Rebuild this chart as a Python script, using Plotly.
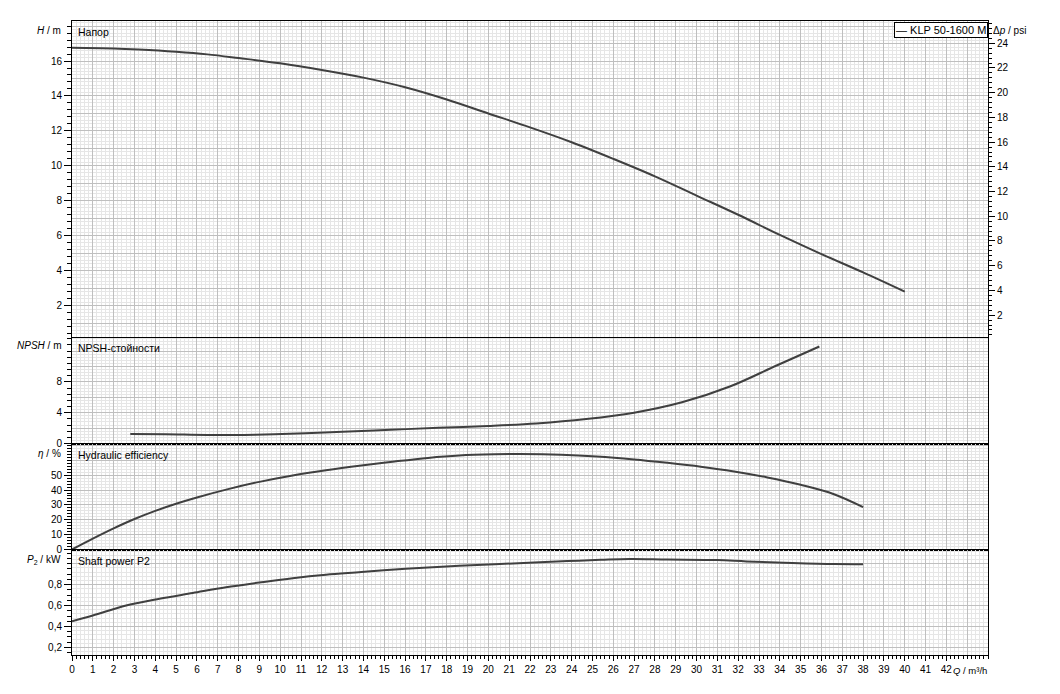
import plotly.graph_objects as go

# pump curve data (Q in m3/h)
q_head = [0, 2, 3.2, 5, 6.5, 8, 10, 12, 14, 16, 18, 20, 22, 24, 26, 28, 30, 32, 34, 36, 38, 40]
head_m = [16.76, 16.72, 16.66, 16.53, 16.38, 16.17, 15.87, 15.49, 15.05, 14.5, 13.8, 13.0,
          12.2, 11.35, 10.4, 9.4, 8.3, 7.2, 6.05, 4.95, 3.9, 2.8]

q_npsh = [2.8, 4.5, 6.5, 8.8, 11.2, 13.0, 15.3, 17.6, 20.0, 22.3, 24.7, 27.0, 29.3, 31.6, 33.9, 35.9]
npsh_m = [1.22, 1.2, 1.1, 1.15, 1.32, 1.52, 1.78, 2.04, 2.28, 2.6, 3.17, 4.0, 5.35, 7.4, 10.2, 12.6]

q_eff = [0, 1, 2, 3, 4, 5, 6, 7.5, 9, 10.6, 12.2, 13.9, 15.5, 17.1, 18.6, 20.3, 21.5,
         23.5, 25.2, 27.0, 28.6, 30.2, 31.8, 33.4, 35.0, 36.6, 38.0]
eff_pct = [0, 7.3, 14.2, 20.5, 26, 30.8, 35, 40.6, 45.5, 49.8, 53.3, 56.5, 59.2, 61.6, 63.2, 64.0,
           64.2, 63.8, 62.6, 60.6, 58.3, 55.7, 52.5, 48.5, 43.5, 37.2, 28.5]

q_power = [0, 1, 2.6, 4.2, 5.8, 7.4, 9.0, 10.6, 12.2, 13.9, 15.5, 17.1, 18.6, 20.3, 22.2,
           23.8, 25.4, 26.8, 28.6, 31.0, 32.4, 34.2, 36.6, 38.0]
power_kw = [0.45, 0.505, 0.6, 0.665, 0.72, 0.775, 0.82, 0.862, 0.895, 0.92, 0.945, 0.965, 0.98,
            0.995, 1.012, 1.025, 1.037, 1.045, 1.04, 1.035, 1.022, 1.01, 0.997, 0.996]

pump_name = "KLP 50-1600 M"

q_ticks = list(range(0, 43))
q_labels = [str(v) for v in q_ticks]
head_ticks = [2, 4, 6, 8, 10, 12, 14, 16]
head_labels = [str(v) for v in head_ticks]
psi_ticks = [2, 4, 6, 8, 10, 12, 14, 16, 18, 20, 22, 24]
psi_labels = [str(v) for v in psi_ticks]
npsh_ticks = [0, 4, 8]
npsh_labels = ["0", "4", "8"]
eff_ticks = [0, 10, 20, 30, 40, 50]
eff_labels = [str(v) for v in eff_ticks]
power_ticks = [0.2, 0.4, 0.6, 0.8]
power_labels = ["0,2", "0,4", "0,6", "0,8"]

# page geometry in pixels (the page body adds an 8 px offset)
OFF = 8
W, H = 1060 - OFF, 694 - OFF
L, R, T, B = 72, 988, 21, 655
edges = [21, 337.5, 443.5, 549.5, 655]

MAJOR = "#bfbfbf"
MINOR = "#e6e6e6"
FAMILY = "Liberation Sans, Arial, sans-serif"
FONT = dict(family=FAMILY, size=10, color="black")
TFONT = dict(family=FAMILY, size=10.5, color="black")


def dom(top, bottom):
    return [(B - bottom) / (B - T), (B - top) / (B - T)]


def px(x, y):
    return (x - L) / (R - L), (B - y) / (B - T)


def grid_axis(**kw):
    ax = dict(showgrid=True, gridcolor=MAJOR, gridwidth=1, zeroline=False, showline=True,
              mirror=True, linecolor="black", linewidth=1, ticks="", showticklabels=False,
              tick0=0, fixedrange=True)
    ax.update(kw)
    return ax


def tick_axis(over, anchor, rng, vals, text, minor_dtick, side="left", tlen=7, mlen=4):
    return dict(overlaying=over, anchor=anchor, side=side, range=rng, tickmode="array",
                tickvals=vals, ticktext=text, ticks="outside", ticklen=tlen, tickwidth=1,
                tickcolor="black", showgrid=False, zeroline=False, showline=False,
                tickfont=FONT, fixedrange=True,
                minor=dict(dtick=minor_dtick, tick0=0, ticks="outside", ticklen=mlen,
                           tickcolor="black", showgrid=False))


q_rng = [0, 44]
head_rng = [0.175, 18.29]
npsh_rng = [0, 13.77]
eff_rng = [0, 71.3]
power_rng = [0.127, 1.136]
psi_rng = [0.19, 25.8]

fig = go.Figure()
curve = dict(color="#404040", width=2)
series = [(q_head, head_m), (q_npsh, npsh_m), (q_eff, eff_pct), (q_power, power_kw)]
for i, (q, v) in enumerate(series, 1):
    sfx = "" if i == 1 else str(i)
    fig.add_trace(go.Scatter(x=q, y=v, mode="lines", line=curve, line_shape="spline",
                             xaxis="x" + sfx, yaxis="y" + sfx, showlegend=False,
                             hoverinfo="x+y"))

# empty traces so the overlay tick axes get drawn
for xa, ya in [("x", "y5"), ("x2", "y6"), ("x3", "y7"), ("x4", "y8"), ("x", "y9"), ("x5", "y4")]:
    fig.add_trace(go.Scatter(x=[], y=[], xaxis=xa, yaxis=ya, showlegend=False, hoverinfo="skip"))

xminor = dict(dtick=0.2, tick0=0, showgrid=True, gridcolor=MINOR)
layout = dict(
    width=W, height=H, autosize=False,
    margin=dict(l=L - OFF, r=W - (R - OFF), t=T - OFF, b=H - (B - OFF)),
    paper_bgcolor="white", plot_bgcolor="white",
    font=FONT, showlegend=False,
    xaxis=grid_axis(range=q_rng, dtick=1, anchor="y", minor=xminor),
    xaxis2=grid_axis(range=q_rng, dtick=1, anchor="y2", minor=xminor, matches="x"),
    xaxis3=grid_axis(range=q_rng, dtick=1, anchor="y3", minor=xminor, matches="x"),
    xaxis4=grid_axis(range=q_rng, dtick=1, anchor="y4", minor=xminor, matches="x"),
    xaxis5=dict(overlaying="x4", anchor="y4", side="bottom", range=q_rng, tickmode="array",
                tickvals=q_ticks, ticktext=q_labels, ticks="outside", ticklen=5, tickwidth=1,
                tickcolor="black", showgrid=False, zeroline=False, showline=False,
                tickfont=FONT, fixedrange=True,
                minor=dict(dtick=0.2, tick0=0, ticks="outside", ticklen=3,
                           tickcolor="black", showgrid=False)),
    yaxis=grid_axis(domain=dom(edges[0], edges[1]), range=head_rng, dtick=1, anchor="x",
                    minor=dict(dtick=0.2, tick0=0, showgrid=True, gridcolor=MINOR)),
    yaxis2=grid_axis(domain=dom(edges[1], edges[2]), range=npsh_rng, dtick=2, anchor="x2",
                     minor=dict(dtick=0.4, tick0=0, showgrid=True, gridcolor=MINOR)),
    yaxis3=grid_axis(domain=dom(edges[2], edges[3]), range=eff_rng, dtick=10, anchor="x3",
                     minor=dict(dtick=2, tick0=0, showgrid=True, gridcolor=MINOR)),
    yaxis4=grid_axis(domain=dom(edges[3], edges[4]), range=power_rng, dtick=0.2, anchor="x4",
                     minor=dict(dtick=0.04, tick0=0, showgrid=True, gridcolor=MINOR)),
    yaxis5=tick_axis("y", "x", head_rng, head_ticks, head_labels, 0.4),
    yaxis6=tick_axis("y2", "x2", npsh_rng, npsh_ticks, npsh_labels, 0.8),
    yaxis7=tick_axis("y3", "x3", eff_rng, eff_ticks, eff_labels, 2),
    yaxis8=tick_axis("y4", "x4", power_rng, power_ticks, power_labels, 0.05),
    yaxis9=tick_axis("y", "x", psi_rng, psi_ticks, psi_labels, 0.4, side="right", tlen=6, mlen=3),
)
fig.update_layout(**layout)

# crisp black borders between the panels, drawn above the grids
for e in edges[1:-1]:
    _, ey = px(L, e)
    fig.add_shape(type="line", xref="paper", yref="paper", x0=0, x1=1, y0=ey, y1=ey,
                  line=dict(color="black", width=1), layer="above")


def note(text, x, y, xanchor, font=FONT, **kw):
    ax, ay = px(x, y)
    fig.add_annotation(text=text, x=ax, y=ay, xref="paper", yref="paper", showarrow=False,
                       xanchor=xanchor, yanchor="middle", font=font, **kw)


# panel titles
note("Напор", 76, 32, "left", TFONT)
note("NPSH-стойности", 76, 348, "left", TFONT)
note("Hydraulic efficiency", 76, 455, "left", TFONT)
note("Shaft power P2", 76, 561, "left", TFONT)

# axis unit labels
note("<i>H</i> / m", 63, 30, "right")
note("<i>NPSH</i> / m", 63, 346, "right")
note("<i>η</i> / %", 63, 453, "right")
note("<i>P</i><sub>2</sub> / kW", 63, 560, "right")
note("Δ<i>p</i> / psi", 991, 30, "left")
note("<i>Q</i> / m³/h", 989, 670, "right", dict(family=FAMILY, size=9.5, color="black"))

# legend box
lx, ly = px(R, T + 1)
fig.add_annotation(text="— " + pump_name, x=lx, y=ly, xref="paper", yref="paper",
                   showarrow=False, xanchor="right", yanchor="top",
                   font=dict(family=FAMILY, size=11, color="black"),
                   bgcolor="white", bordercolor="black", borderwidth=1, borderpad=1)

fig.write_html("out.html")
